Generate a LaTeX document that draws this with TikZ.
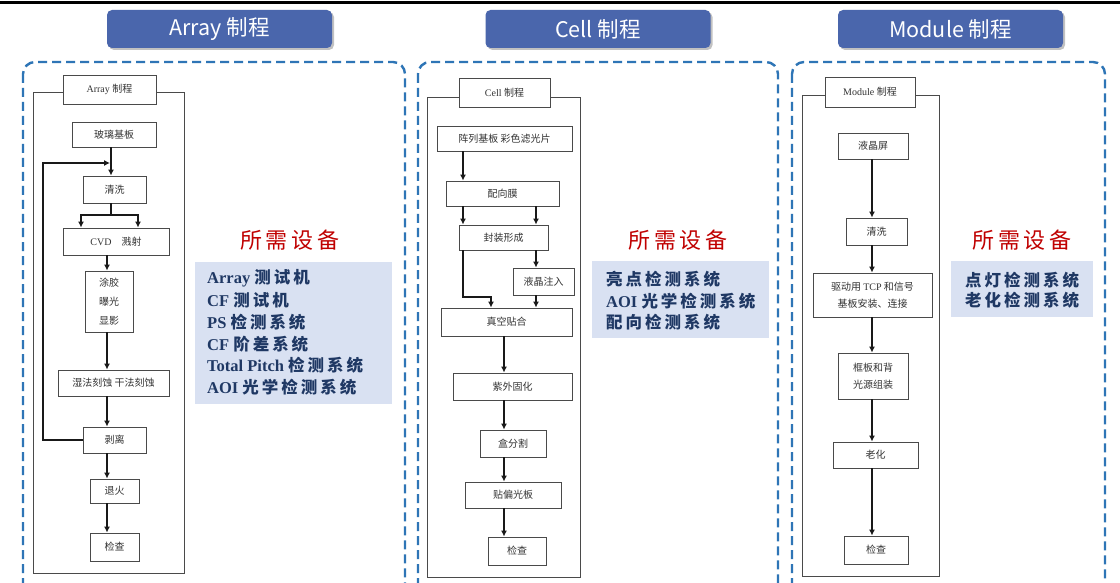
\documentclass[tikz,border=0pt]{standalone}
\usepackage{fontspec}
\setmainfont{Liberation Serif}
\newfontfamily\cjk{Noto Sans CJK SC}
\newfontfamily\cjksp[LetterSpace=18]{Noto Sans CJK SC}
\usetikzlibrary{shadows,arrows.meta}
\definecolor{hdrblue}{HTML}{4A66AC}
\definecolor{dashblue}{HTML}{2E75B6}
\definecolor{listbg}{HTML}{D9E1F2}
\definecolor{listtxt}{HTML}{1F3864}
\definecolor{eqred}{HTML}{C00000}
\definecolor{boxgray}{HTML}{4A4A4A}
\definecolor{txtgray}{HTML}{333333}
\newcommand\eqmix[2]{#1 {\cjksp\bfseries #2}}
\begin{document}
\begin{tikzpicture}[x=1pt,y=-1pt,
 hdr/.style={fill=hdrblue, rounded corners=5pt, text=white, font=\cjk\fontsize{21.5}{24}\selectfont, minimum width=225, minimum height=38, inner sep=0, drop shadow={shadow xshift=2pt, shadow yshift=-2pt, fill=black!40, opacity=0.6}},
 panel/.style={draw=dashblue, line width=2.4pt, dash pattern=on 9pt off 5pt, rounded corners=12pt},
 frame/.style={draw=boxgray, line width=0.9pt},
 fbox/.style={draw=boxgray, fill=white, line width=0.9pt, inner sep=0, font=\cjk\fontsize{10}{14}\selectfont, text=txtgray, align=center},
 ftitle/.style={fbox, font=\fontsize{10}{12}\selectfont},
 arr/.style={draw=black!90, line width=1.1pt, -{Latex[length=6pt,width=6pt]}},
 ln/.style={draw=black!90, line width=1.1pt},
 eqtitle/.style={text=eqred, font=\cjksp\fontsize{22}{26}\selectfont, inner sep=0},
 eqbox/.style={fill=listbg, draw=none},
 eqline/.style={anchor=west, text=listtxt, inner sep=0, font=\bfseries\fontsize{16.5}{20}\selectfont},
]
\useasboundingbox (0,0) rectangle (1120,583);
\clip (0,0) rectangle (1120,583);
\fill[white] (0,0) rectangle (1120,583);
\draw[line width=3pt] (0,2.5) -- (1120,2.5);

% headers
\node[hdr] (h1) at (219.5,29) {Array 制程};
\node[hdr] (h2) at (598,29) {Cell 制程};
\node[hdr] (h3) at (950.5,29) {Module 制程};

% panels
\draw[panel] (23,62) rectangle (405,595);
\draw[panel] (418,62) rectangle (778,595);
\draw[panel] (792,62) rectangle (1105,595);

% ---------- Array flow ----------
\draw[frame] (33,92) rectangle (184,573);
\node[ftitle, minimum width=93, minimum height=29] (ta) at (109.5,89.5) {Array {\cjk 制程}};
\node[fbox, minimum width=84, minimum height=25] (a1) at (114,134.5) {玻璃基板};
\node[fbox, minimum width=63, minimum height=27] (a2) at (114.5,189.5) {清洗};
\node[fbox, minimum width=106, minimum height=27] (a3) at (116,241.5) {{\rmfamily CVD}\quad 溅射};
\node[fbox, minimum width=48, minimum height=61, font=\cjk\fontsize{10}{19}\selectfont] (a4) at (109,301.5) {涂胶\\曝光\\显影};
\node[fbox, minimum width=111, minimum height=26] (a5) at (113.5,383) {湿法刻蚀\ 干法刻蚀};
\node[fbox, minimum width=63, minimum height=26] (a6) at (114.5,440) {剥离};
\node[fbox, minimum width=49, minimum height=24] (a7) at (114.5,491) {退火};
\node[fbox, minimum width=49, minimum height=28] (a8) at (114.5,547) {检查};
\coordinate (xa1) at (111,0);
\coordinate (xa) at (107,0);
\coordinate (xl) at (43,0);
\coordinate (jn) at (110,163);
\coordinate (sp) at (111,215);
\coordinate (xs1) at (81,0);
\coordinate (xs2) at (138,0);
\draw[arr] (a1.south -| xa1) -- (a2.north -| xa1);
\draw[arr] (a6.west) -- (a6.west -| xl) |- (jn);
\draw[ln] (a2.south -| sp) -- (sp);
\draw[arr] (sp) -| (a3.north -| xs1);
\draw[arr] (sp) -| (a3.north -| xs2);
\draw[arr] (a3.south -| xa) -- (a4.north -| xa);
\draw[arr] (a4.south -| xa) -- (a5.north -| xa);
\draw[arr] (a5.south -| xa) -- (a6.north -| xa);
\draw[arr] (a6.south -| xa) -- (a7.north -| xa);
\draw[arr] (a7.south -| xa) -- (a8.north -| xa);

% ---------- Cell flow ----------
\draw[frame] (427,97) rectangle (580,577);
\node[ftitle, minimum width=91, minimum height=29] (tb) at (504.5,92.5) {Cell {\cjk 制程}};
\node[fbox, minimum width=135, minimum height=25] (b1) at (504.5,138.5) {阵列基板\ 彩色滤光片};
\node[fbox, minimum width=113, minimum height=25] (b2) at (502.5,193.5) {配向膜};
\node[fbox, minimum width=89, minimum height=25] (b3) at (503.5,237.5) {封装形成};
\node[fbox, minimum width=61, minimum height=27] (b4) at (543.5,281.5) {液晶注入};
\node[fbox, minimum width=131, minimum height=28] (b5) at (506.5,322) {真空贴合};
\node[fbox, minimum width=119, minimum height=27] (b6) at (512.5,386.5) {紫外固化};
\node[fbox, minimum width=66, minimum height=27] (b7) at (513,443.5) {盒分割};
\node[fbox, minimum width=96, minimum height=26] (b8) at (513,495) {贴偏光板};
\node[fbox, minimum width=58, minimum height=28] (b9) at (517,551) {检查};
\coordinate (xb1) at (463,0);
\coordinate (xb2) at (536,0);
\coordinate (xb3) at (491,0);
\coordinate (xb) at (504,0);
\coordinate (kb) at (463,297);
\draw[arr] (b1.south -| xb1) -- (b2.north -| xb1);
\draw[arr] (b2.south -| xb1) -- (b3.north -| xb1);
\draw[arr] (b2.south -| xb2) -- (b3.north -| xb2);
\draw[arr] (b3.south -| xb2) -- (b4.north -| xb2);
\draw[arr] (b3.south -| xb1) -- (kb) -| (b5.north -| xb3);
\draw[arr] (b4.south -| xb2) -- (b5.north -| xb2);
\draw[arr] (b5.south -| xb) -- (b6.north -| xb);
\draw[arr] (b6.south -| xb) -- (b7.north -| xb);
\draw[arr] (b7.south -| xb) -- (b8.north -| xb);
\draw[arr] (b8.south -| xb) -- (b9.north -| xb);

% ---------- Module flow ----------
\draw[frame] (802,95) rectangle (939,576);
\node[ftitle, minimum width=90, minimum height=30] (tc) at (870,92) {Module {\cjk 制程}};
\node[fbox, minimum width=70, minimum height=26] (c1) at (873,146) {液晶屏};
\node[fbox, minimum width=61, minimum height=27] (c2) at (876.5,231.5) {清洗};
\node[fbox, minimum width=119, minimum height=44, font=\cjk\fontsize{10}{17}\selectfont] (c3) at (872.5,295) {驱动用 {\rmfamily TCP} 和信号\\基板安装、连接};
\node[fbox, minimum width=70, minimum height=46, font=\cjk\fontsize{10}{17}\selectfont] (c4) at (873,376) {框板和背\\光源组装};
\node[fbox, minimum width=85, minimum height=26] (c5) at (875.5,455) {老化};
\node[fbox, minimum width=64, minimum height=28] (c6) at (876,550) {检查};
\coordinate (xc) at (872,0);
\draw[arr] (c1.south -| xc) -- (c2.north -| xc);
\draw[arr] (c2.south -| xc) -- (c3.north -| xc);
\draw[arr] (c3.south -| xc) -- (c4.north -| xc);
\draw[arr] (c4.south -| xc) -- (c5.north -| xc);
\draw[arr] (c5.south -| xc) -- (c6.north -| xc);

% ---------- equipment ----------
\node[eqtitle] (e1) at (290,240) {所需设备};
\fill[eqbox] (195,262) rectangle (392,404);
\node[eqline] (e1a) at (207,278) {\eqmix{Array}{测试机}};
\node[eqline] (e1b) at (207,300) {\eqmix{CF}{测试机}};
\node[eqline] (e1c) at (207,322) {\eqmix{PS}{检测系统}};
\node[eqline] (e1d) at (207,344) {\eqmix{CF}{阶差系统}};
\node[eqline] (e1e) at (207,365) {\eqmix{Total Pitch}{检测系统}};
\node[eqline] (e1f) at (207,387) {\eqmix{AOI}{光学检测系统}};

\node[eqtitle] (e2) at (678,240) {所需设备};
\fill[eqbox] (592,261) rectangle (769,338);
\node[eqline] (e2a) at (606,279) {{\cjksp\bfseries 亮点检测系统}};
\node[eqline] (e2b) at (606,301) {\eqmix{AOI}{光学检测系统}};
\node[eqline] (e2c) at (606,322) {{\cjksp\bfseries 配向检测系统}};

\node[eqtitle] (e3) at (1022,240) {所需设备};
\fill[eqbox] (951,261) rectangle (1093,317);
\node[eqline] (e3a) at (965,280) {{\cjksp\bfseries 点灯检测系统}};
\node[eqline] (e3b) at (965,300) {{\cjksp\bfseries 老化检测系统}};
\end{tikzpicture}
\end{document}
